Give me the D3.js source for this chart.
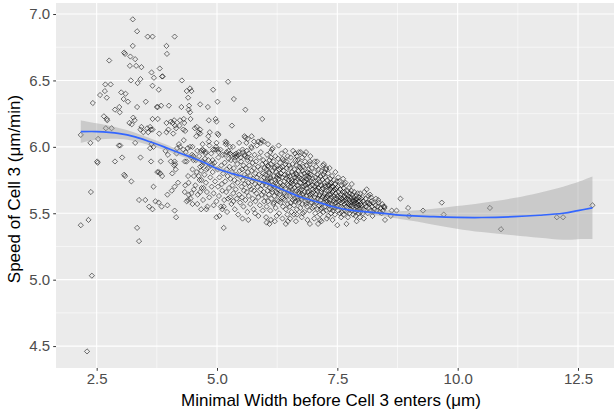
<!DOCTYPE html>
<html>
<head>
<meta charset="utf-8">
<script src="https://cdn.jsdelivr.net/npm/d3@7"></script>
<style>
  html, body { margin: 0; padding: 0; background: #ffffff; }
  svg { display: block; }
  text { font-family: "Liberation Sans", Arial, Helvetica, sans-serif; }
</style>
</head>
<body>
<svg id="chart" width="614" height="412"></svg>
<script>
// ---------- DATA ----------
const xTicks = [2.5, 5.0, 7.5, 10.0, 12.5];
const xTickLabels = ["2.5", "5.0", "7.5", "10.0", "12.5"];
const xMinor = [3.75, 6.25, 8.75, 11.25];
const yTicks = [4.5, 5.0, 5.5, 6.0, 6.5, 7.0];
const yTickLabels = ["4.5", "5.0", "5.5", "6.0", "6.5", "7.0"];
const yMinor = [4.75, 5.25, 5.75, 6.25, 6.75];
const xTitle = "Minimal Width before Cell 3 enters (\u03BCm)";
const yTitle = "Speed of Cell 3 (\u03BCm/min)";

// sparse left part of the cloud [minimal width, speed]
const cellsLeft = [
[2.17,6.09],[2.76,6.65],[2.42,6.33],[2.68,6.47],[2.79,6.47],[2.57,6.39],[2.67,6.42],[2.71,6.37],[2.88,6.28],[2.65,6.23],
[2.71,6.21],[2.72,6.20],[2.69,6.14],[2.81,6.14],[2.37,6.03],[2.53,6.06],[2.51,5.89],[2.52,5.88],[2.88,5.89],[2.96,6.01],
[2.38,5.66],[2.33,5.45],[2.17,5.41],[2.40,5.03],[2.30,4.46],
[3.25,6.96],[3.34,6.87],[3.56,6.83],[3.66,6.83],[4.12,6.83],[3.25,6.76],[3.95,6.76],[3.07,6.71],[3.09,6.70],[3.96,6.70],
[3.20,6.68],[3.30,6.66],[3.19,6.61],[3.32,6.61],[3.43,6.60],[3.81,6.59],[3.64,6.56],[3.86,6.53],[3.87,6.53],[3.69,6.52],
[3.21,6.50],[3.41,6.51],[3.35,6.48],[4.27,6.50],[5.23,6.49],[3.66,6.46],[3.79,6.43],[3.01,6.41],[3.10,6.40],[4.37,6.42],
[4.44,6.44],[4.47,6.42],[4.40,6.37],[4.92,6.43],[3.06,6.36],[3.15,6.34],[3.52,6.34],[5.01,6.34],[5.35,6.36],[3.75,6.30],
[3.77,6.30],[3.84,6.31],[4.00,6.31],[2.97,6.30],[2.98,6.26],[3.34,6.30],[4.26,6.30],[4.42,6.31],[4.41,6.28],[4.44,6.26],
[4.65,6.32],[4.81,6.30],[5.59,6.28],[3.26,6.22],[3.29,6.20],[3.18,6.18],[3.23,6.17],[3.66,6.21],[3.77,6.21],[3.95,6.18],
[4.04,6.19],[4.23,6.20],[4.13,6.16],[4.15,6.14],[4.30,6.13],[4.34,6.12],[4.45,6.21],[4.58,6.15],[4.65,6.13],[4.83,6.20],
[4.97,6.21],[5.31,6.16],[3.43,6.15],[3.55,6.14],[3.63,6.13],[5.01,6.10],[5.03,6.09],[5.57,6.08],[5.72,6.08],[4.57,6.08],
[4.82,6.08],[2.99,6.01],[3.30,6.03],[3.03,5.92],[3.41,5.92],[3.63,5.89],[3.83,5.89],[3.93,5.97],[4.12,5.89],[4.13,5.87],
[4.16,5.95],[4.21,6.02],[4.31,6.05],[4.39,5.99],[4.44,6.00],[4.33,5.89],[4.37,5.89],[4.51,5.93],[4.48,5.94],[4.49,6.00],
[4.59,5.97],[4.67,5.97],[4.76,5.95],[4.65,6.10],[4.85,6.11],[4.67,5.82],[4.78,5.83],[4.69,5.86],[4.72,5.88],[4.58,5.81],
[4.62,5.78],[3.79,5.81],[3.82,5.80],[3.86,5.78],[3.07,5.79],[3.09,5.78],[3.22,5.74],[3.68,5.70],[3.97,5.64],[4.06,5.67],
[4.12,5.70],[4.19,5.73],[4.34,5.71],[4.41,5.73],[4.33,5.66],[4.41,5.64],[4.47,5.65],[4.52,5.68],[4.45,5.61],[4.40,5.60],
[4.37,5.59],[3.38,5.60],[3.51,5.60],[3.72,5.59],[3.79,5.58],[3.85,5.55],[3.59,5.55],[3.66,5.53],[3.97,5.56],[4.12,5.52],
[4.15,5.47],[4.49,5.57],[4.59,5.57],[4.67,5.53],[4.78,5.53],[4.80,5.55],[4.93,5.56],[4.99,5.47],[5.05,5.48],[5.11,5.53],
[5.14,5.55],[5.14,5.39],[5.44,5.49],[5.34,5.59],[5.23,5.61],[3.34,5.39],[3.38,5.29],
[3.41,6.13],[3.47,6.11],[3.61,6.15],[3.66,6.13],[3.57,6.11],[3.64,6.02],[3.68,6.00],[3.61,5.99],[3.76,5.81],[4.08,6.18],
[4.11,6.20],[3.95,6.11],[3.99,6.13],[4.09,6.10],[4.31,6.21],[4.32,6.18],[4.22,6.16],[4.54,6.14],[4.62,6.11],[4.99,6.19],
[4.30,5.98],[4.35,5.96],[4.17,5.99],[4.23,6.00],[3.98,5.94],[3.80,6.10],[4.04,5.89],[4.11,5.86],[4.07,5.80],[4.14,5.83],
[4.47,5.92],[4.51,5.90],[4.49,5.83],[4.40,5.78],[4.72,5.97],[4.70,5.89],[4.65,5.85],[4.82,5.90],[4.91,5.90],[4.90,5.87],
[4.87,5.86],[5.01,5.98],[4.92,5.98],[4.99,6.03],[5.20,6.03],[5.27,6.00],[5.27,5.95],[5.30,5.94],[5.24,5.91],[5.37,5.90],
[5.41,5.93],[4.65,5.66],[4.72,5.69],[4.68,5.75],[4.84,6.01],[4.96,5.98],[5.03,5.96],[4.70,5.98],[4.77,5.96],
[5.17,5.94],[5.20,5.96],[5.36,5.94],[5.40,5.95],[5.45,5.94],[5.49,5.92],[5.54,5.96],[5.57,5.94],[5.63,5.92],
[5.94,6.21],[5.18,6.04],[5.46,6.03],[5.59,6.07],[5.64,6.06],[5.77,6.04],[5.86,6.04],[5.91,6.03],[5.97,6.04],[6.11,5.96]
];

// dense core of the cloud
const cellsCore = [
[4.52,5.78],[4.55,5.71],[4.56,5.90],[4.60,5.64],[4.63,5.93],[4.64,5.75],[4.68,5.69],[4.70,6.02],[4.71,5.60],[4.74,5.79],
[4.75,5.91],[4.77,5.73],[4.79,5.66],[4.81,5.84],[4.83,6.04],[4.84,5.62],[4.86,5.77],[4.88,5.95],[4.89,5.70],[4.91,5.81],
[4.93,5.65],[4.95,5.88],[4.96,5.74],[4.98,6.00],[4.99,5.59],
[5.01,5.83],[5.02,5.70],[5.03,5.92],[5.04,5.63],[5.05,5.77],[5.07,5.98],[5.08,5.55],[5.09,5.86],[5.10,5.72],[5.11,5.67],
[5.12,5.94],[5.13,5.80],[5.15,5.60],[5.16,5.88],[5.17,5.74],[5.18,6.02],[5.19,5.66],[5.20,5.83],[5.21,5.51],[5.22,5.78],
[5.24,5.97],[5.25,5.69],[5.26,5.85],[5.27,5.62],[5.28,5.76],[5.29,5.90],[5.30,5.57],[5.31,5.81],[5.32,5.71],[5.33,6.00],
[5.34,5.65],[5.35,5.84],[5.36,5.75],[5.37,5.53],[5.38,5.92],[5.39,5.68],[5.40,5.79],[5.41,5.61],[5.42,5.87],[5.43,5.73],
[5.45,5.96],[5.46,5.64],[5.47,5.82],[5.48,5.58],[5.49,5.77],
[5.50,5.89],[5.51,5.70],[5.52,5.62],[5.52,5.83],[5.53,5.98],[5.54,5.75],[5.55,5.55],[5.55,5.86],[5.56,5.67],[5.57,5.79],
[5.58,5.93],[5.58,5.72],[5.59,5.60],[5.60,5.84],[5.61,6.03],[5.61,5.77],[5.62,5.66],[5.63,5.90],[5.63,5.51],[5.64,5.81],
[5.65,5.73],[5.66,5.95],[5.66,5.63],[5.67,5.86],[5.68,5.70],[5.69,5.78],[5.69,5.57],[5.70,5.91],[5.71,5.68],[5.72,5.82],
[5.72,5.99],[5.73,5.74],[5.74,5.61],[5.74,5.88],[5.75,5.76],[5.76,5.53],[5.77,5.84],[5.77,5.67],[5.78,5.94],[5.79,5.72],
[5.80,5.80],[5.80,5.59],[5.81,5.89],[5.82,5.65],[5.83,5.77],[5.83,6.01],[5.84,5.70],[5.85,5.85],[5.86,5.48],[5.86,5.62],
[5.87,5.79],[5.88,5.92],[5.88,5.73],[5.89,5.56],[5.90,5.83],[5.91,5.68],[5.91,5.96],[5.92,5.75],[5.93,5.64],[5.94,5.87],
[5.94,5.71],[5.95,5.52],[5.96,5.80],[5.96,5.90],[5.97,5.66],[5.98,5.77],[5.98,5.59],[5.99,5.84],[5.99,5.73],[5.53,5.46],
[5.65,5.45],[5.79,5.50],[5.71,6.00],[5.93,6.05],[5.62,5.97],
[6.00,5.79],[6.01,5.62],[6.01,5.88],[6.02,5.71],[6.03,5.55],[6.03,5.83],[6.04,5.94],[6.05,5.67],[6.05,5.76],[6.06,5.59],
[6.07,5.85],[6.07,5.73],[6.08,5.64],[6.09,5.90],[6.09,5.80],[6.10,5.69],[6.11,5.52],[6.11,5.77],[6.12,5.87],[6.13,5.61],
[6.13,5.74],[6.14,5.98],[6.15,5.82],[6.15,5.66],[6.16,5.71],[6.17,5.57],[6.17,5.89],[6.18,5.78],[6.19,5.63],[6.19,5.84],
[6.20,5.70],[6.21,5.93],[6.21,5.75],[6.22,5.54],[6.23,5.81],[6.23,5.66],[6.24,5.86],[6.25,5.72],[6.25,5.60],[6.26,5.79],
[6.27,5.91],[6.27,5.68],[6.28,5.76],[6.29,5.50],[6.29,5.83],[6.30,5.64],[6.31,5.73],[6.31,5.88],[6.32,5.58],[6.33,5.80],
[6.33,5.69],[6.34,5.95],[6.35,5.77],[6.35,5.62],[6.36,5.85],[6.37,5.71],[6.37,5.55],[6.38,5.82],[6.39,5.66],[6.39,5.90],
[6.40,5.74],[6.41,5.60],[6.41,5.79],[6.42,5.87],[6.43,5.68],[6.43,5.53],[6.44,5.76],[6.45,5.84],[6.45,5.63],[6.46,5.72],
[6.47,5.93],[6.47,5.57],[6.48,5.80],[6.49,5.67],[6.49,5.75],[6.50,5.86],
[6.02,5.47],[6.06,6.02],[6.12,5.45],[6.16,5.99],[6.24,5.48],[6.28,6.01],[6.36,5.46],[6.42,5.97],[6.46,5.49],[6.18,5.58],
[6.04,5.74],[6.08,5.81],[6.14,5.68],[6.20,5.85],[6.26,5.65],[6.30,5.78],[6.34,5.70],[6.38,5.61],[6.44,5.89],[6.48,5.71],
[6.10,5.76],[6.22,5.73],[6.32,5.84],[6.40,5.65],[6.46,5.78],[6.12,5.92],[6.28,5.59],[6.36,5.91],[6.06,5.86],[6.24,5.77],
[6.50,5.63],[6.51,5.78],[6.51,5.55],[6.52,5.84],[6.53,5.70],[6.53,5.92],[6.54,5.66],[6.55,5.75],[6.55,5.51],[6.56,5.81],
[6.57,5.60],[6.57,5.87],[6.58,5.72],[6.59,5.64],[6.59,5.79],[6.60,5.56],[6.61,5.83],[6.61,5.69],[6.62,5.95],[6.63,5.74],
[6.63,5.59],[6.64,5.80],[6.65,5.67],[6.65,5.86],[6.66,5.53],[6.67,5.76],[6.67,5.62],[6.68,5.90],[6.69,5.71],[6.69,5.82],
[6.70,5.58],[6.71,5.77],[6.71,5.65],[6.72,5.88],[6.73,5.54],[6.73,5.73],[6.74,5.84],[6.75,5.61],[6.75,5.79],[6.76,5.68],
[6.77,5.92],[6.77,5.57],[6.78,5.75],[6.79,5.64],[6.79,5.85],[6.80,5.70],[6.81,5.51],[6.81,5.80],[6.82,5.66],[6.83,5.89],
[6.83,5.74],[6.84,5.59],[6.85,5.78],[6.85,5.63],[6.86,5.86],[6.87,5.69],[6.87,5.55],[6.88,5.81],[6.89,5.72],[6.89,5.60],
[6.90,5.83],[6.91,5.66],[6.91,5.77],[6.92,5.52],[6.93,5.87],[6.93,5.70],[6.94,5.62],[6.95,5.79],[6.95,5.58],[6.96,5.74],
[6.97,5.84],[6.97,5.65],[6.98,5.54],[6.99,5.76],[6.99,5.68],
[6.52,5.46],[6.58,5.97],[6.64,5.44],[6.70,5.96],[6.76,5.47],[6.82,5.94],[6.88,5.45],[6.94,5.93],[6.60,5.49],[6.78,5.50],
[6.54,5.73],[6.56,5.68],[6.62,5.77],[6.66,5.71],[6.68,5.60],[6.72,5.67],[6.74,5.76],[6.78,5.82],[6.80,5.62],[6.84,5.71],
[6.86,5.76],[6.88,5.66],[6.90,5.73],[6.92,5.80],[6.96,5.61],[6.98,5.71],[6.53,5.58],[6.61,5.61],[6.69,5.66],[6.77,5.70],
[6.85,5.57],[6.93,5.64],[6.57,5.74],[6.65,5.79],[6.73,5.63],[6.81,5.74],[6.89,5.78],[6.97,5.58],[6.63,5.90],[6.71,5.85],
[7.00,5.66],[7.01,5.74],[7.01,5.55],[7.02,5.81],[7.03,5.62],[7.03,5.70],[7.04,5.50],[7.05,5.77],[7.05,5.64],[7.06,5.85],
[7.07,5.58],[7.07,5.72],[7.08,5.67],[7.09,5.53],[7.09,5.79],[7.10,5.61],[7.11,5.69],[7.11,5.83],[7.12,5.56],[7.13,5.74],
[7.13,5.64],[7.14,5.49],[7.15,5.78],[7.15,5.60],[7.16,5.71],[7.17,5.66],[7.17,5.82],[7.18,5.54],[7.19,5.75],[7.19,5.62],
[7.20,5.69],[7.21,5.51],[7.21,5.79],[7.22,5.58],[7.23,5.73],[7.23,5.65],[7.24,5.55],[7.25,5.77],[7.25,5.61],[7.26,5.70],
[7.27,5.84],[7.27,5.52],[7.28,5.67],[7.29,5.59],[7.29,5.75],[7.30,5.63],[7.31,5.48],[7.31,5.80],[7.32,5.56],[7.33,5.71],
[7.33,5.64],[7.34,5.53],[7.35,5.76],[7.35,5.60],[7.36,5.68],[7.37,5.50],[7.37,5.73],[7.38,5.62],[7.39,5.57],[7.39,5.78],
[7.40,5.66],[7.41,5.52],[7.41,5.70],[7.42,5.59],[7.43,5.75],[7.43,5.63],[7.44,5.54],[7.45,5.68],[7.45,5.49],[7.46,5.72],
[7.47,5.58],[7.47,5.65],[7.48,5.55],[7.49,5.74],[7.49,5.61],
[7.02,5.46],[7.08,5.89],[7.14,5.45],[7.20,5.86],[7.28,5.46],[7.34,5.84],[7.40,5.45],[7.46,5.81],[7.06,5.68],[7.12,5.63],
[7.18,5.68],[7.24,5.71],[7.30,5.57],[7.36,5.64],[7.42,5.67],[7.48,5.69],[7.04,5.59],[7.10,5.72],[7.16,5.57],[7.22,5.63],
[7.26,5.59],[7.32,5.67],[7.38,5.70],[7.44,5.61],[7.15,5.53],[7.27,5.62],[7.39,5.54],[7.11,5.76],[7.33,5.58],[7.45,5.57],
[7.50,5.63],[7.51,5.56],[7.51,5.70],[7.52,5.52],[7.53,5.66],[7.53,5.59],[7.54,5.74],[7.55,5.50],[7.55,5.62],[7.56,5.68],
[7.57,5.55],[7.57,5.64],[7.58,5.58],[7.59,5.71],[7.59,5.51],[7.60,5.61],[7.61,5.66],[7.61,5.54],[7.62,5.59],[7.63,5.69],
[7.63,5.49],[7.64,5.63],[7.65,5.57],[7.65,5.66],[7.66,5.52],[7.67,5.60],[7.67,5.73],[7.68,5.55],[7.69,5.64],[7.69,5.58],
[7.70,5.51],[7.71,5.67],[7.71,5.61],[7.72,5.54],[7.73,5.63],[7.73,5.57],[7.74,5.69],[7.75,5.50],[7.75,5.60],[7.76,5.65],
[7.77,5.53],[7.77,5.58],[7.78,5.62],[7.79,5.56],[7.79,5.67],[7.80,5.52],[7.81,5.60],[7.81,5.64],[7.82,5.55],[7.83,5.59],
[7.83,5.49],[7.84,5.62],[7.85,5.57],[7.85,5.66],[7.86,5.53],[7.87,5.60],[7.87,5.51],[7.88,5.58],[7.89,5.63],[7.89,5.55],
[7.90,5.61],[7.91,5.52],[7.91,5.57],[7.92,5.65],[7.93,5.54],[7.93,5.59],[7.94,5.50],[7.95,5.62],[7.95,5.56],[7.96,5.53],
[7.97,5.59],[7.98,5.57],[7.98,5.51],[7.99,5.61],[7.99,5.54],
[7.52,5.77],[7.58,5.47],[7.62,5.76],[7.72,5.47],[7.80,5.72],[7.88,5.48],[7.56,5.60],[7.66,5.62],[7.76,5.56],[7.86,5.59],
[8.01,5.56],[8.02,5.62],[8.03,5.50],[8.04,5.59],[8.05,5.53],[8.06,5.66],[8.07,5.57],[8.08,5.52],[8.09,5.61],[8.10,5.55],
[8.12,5.58],[8.13,5.50],[8.14,5.63],[8.16,5.54],[8.17,5.57],[8.19,5.52],[8.21,5.59],[8.22,5.55],[8.24,5.51],[8.25,5.58],
[8.27,5.53],[8.29,5.56],[8.30,5.61],[8.32,5.52],[8.34,5.55],[8.36,5.58],[8.38,5.51],[8.40,5.54],[8.43,5.57],[8.45,5.52],
[8.05,5.46],[8.11,5.68],[8.23,5.48],[8.35,5.60],[8.46,5.55],
[6.66,5.93],[6.74,5.96],[6.85,5.96],[6.93,5.89],[7.03,5.89],[7.22,5.87],[7.26,5.83],[7.23,5.81],[7.64,5.72],[7.36,5.72],
[7.31,5.71],[7.97,5.65],[8.18,5.64],[8.20,5.62],[8.48,5.55],[8.15,5.58],
[6.03,5.43],[6.09,5.42],[6.20,5.44],[6.43,5.42],[6.47,5.44],[6.66,5.49],[6.93,5.42],[7.10,5.42],[7.17,5.44],[7.50,5.41],
[7.69,5.42],[7.90,5.44],[7.97,5.47],[8.49,5.45]
];

// right tail
const cellsTail = [
[8.48,5.54],[8.63,5.52],[8.73,5.52],[8.61,5.48],[8.42,5.50],[8.81,5.61],[8.97,5.54],[8.99,5.48],[9.28,5.52],[9.67,5.58],
[9.71,5.49],[10.67,5.54],[10.90,5.38],[12.06,5.47],[12.19,5.47],[12.80,5.56]
];

// loess fit with its confidence band (half-width)
const fitX  = [2.17, 2.5, 2.98, 3.3, 3.61, 3.9, 4.16, 4.4, 4.65, 4.86, 5.06, 5.34, 5.69, 6.03, 6.38, 6.72, 7.07, 7.42, 7.76, 8.11, 8.46, 8.8, 9.08, 9.5, 9.98, 10.5, 11.16, 11.7, 12.19, 12.5, 12.8];
const fitY  = [6.114, 6.115, 6.10, 6.075, 6.038, 6.0, 5.963, 5.93, 5.895, 5.86, 5.827, 5.797, 5.762, 5.725, 5.675, 5.624, 5.587, 5.549, 5.524, 5.511, 5.499, 5.486, 5.481, 5.474, 5.469, 5.468, 5.474, 5.485, 5.50, 5.52, 5.541];
const fitSE = [0.085, 0.062, 0.04, 0.032, 0.027, 0.024, 0.022, 0.02, 0.019, 0.019, 0.019, 0.018, 0.018, 0.018, 0.018, 0.018, 0.018, 0.018, 0.019, 0.02, 0.022, 0.03, 0.04, 0.06, 0.085, 0.11, 0.14, 0.17, 0.20, 0.215, 0.235];

// ---------- DRAW ----------
const svg = d3.select("#chart");
const P = { left: 56, top: 3, right: 618.2, bottom: 368 };

const x = d3.scaleLinear().domain([1.655, 13.335]).range([P.left, P.right]);
const y = d3.scaleLinear().domain([4.335, 7.083]).range([P.bottom, P.top]);

svg.append("rect").attr("x", P.left).attr("y", P.top)
  .attr("width", P.right - P.left).attr("height", P.bottom - P.top)
  .attr("fill", "#EBEBEB");

const grid = svg.append("g");
grid.selectAll(".xmin").data(xMinor).join("line")
  .attr("x1", d => x(d)).attr("x2", d => x(d)).attr("y1", P.top).attr("y2", P.bottom)
  .attr("stroke", "#fff").attr("stroke-width", 0.55);
grid.selectAll(".ymin").data(yMinor).join("line")
  .attr("y1", d => y(d)).attr("y2", d => y(d)).attr("x1", P.left).attr("x2", P.right)
  .attr("stroke", "#fff").attr("stroke-width", 0.55);
grid.selectAll(".xmaj").data(xTicks).join("line")
  .attr("x1", d => x(d)).attr("x2", d => x(d)).attr("y1", P.top).attr("y2", P.bottom)
  .attr("stroke", "#fff").attr("stroke-width", 1.1);
grid.selectAll(".ymaj").data(yTicks).join("line")
  .attr("y1", d => y(d)).attr("y2", d => y(d)).attr("x1", P.left).attr("x2", P.right)
  .attr("stroke", "#fff").attr("stroke-width", 1.1);

svg.append("clipPath").attr("id", "clip").append("rect")
  .attr("x", P.left).attr("y", P.top).attr("width", P.right - P.left).attr("height", P.bottom - P.top);

const cells = cellsLeft.concat(cellsCore, cellsTail);
const plot = svg.append("g").attr("clip-path", "url(#clip)");
const r = 2.6;
plot.append("g").selectAll("path").data(cells).join("path")
  .attr("d", d => {
    const cx = x(d[0]), cy = y(d[1]);
    return `M${cx},${cy - r}L${cx + r},${cy}L${cx},${cy + r}L${cx - r},${cy}Z`;
  })
  .attr("fill", "none").attr("stroke", "#000").attr("stroke-opacity", 0.72).attr("stroke-width", 0.75);

const fit = fitX.map((v, i) => ({ x: v, y: fitY[i], se: fitSE[i] }));
plot.append("path").datum(fit)
  .attr("d", d3.area().x(d => x(d.x)).y0(d => y(d.y - d.se)).y1(d => y(d.y + d.se)).curve(d3.curveCatmullRom))
  .attr("fill", "#999999").attr("fill-opacity", 0.4);
plot.append("path").datum(fit)
  .attr("d", d3.line().x(d => x(d.x)).y(d => y(d.y)).curve(d3.curveCatmullRom))
  .attr("fill", "none").attr("stroke", "#3366FF").attr("stroke-width", 1.7);

// axes
const xAxis = svg.append("g").attr("transform", `translate(0,${P.bottom})`)
  .call(d3.axisBottom(x).tickValues(xTicks).tickFormat((d, i) => xTickLabels[i]).tickSize(2.8).tickPadding(3));
const yAxis = svg.append("g").attr("transform", `translate(${P.left},0)`)
  .call(d3.axisLeft(y).tickValues(yTicks).tickFormat((d, i) => yTickLabels[i]).tickSize(2.8).tickPadding(3));
[xAxis, yAxis].forEach(a => {
  a.select(".domain").remove();
  a.selectAll(".tick line").attr("stroke", "#333333").attr("stroke-width", 1);
  a.selectAll(".tick text").attr("fill", "#4D4D4D").style("font-size", "15px")
    .style("font-family", "'Liberation Sans', Arial, sans-serif");
});

svg.append("text").attr("x", 331).attr("y", 406).attr("text-anchor", "middle")
  .style("font-size", "17px").attr("fill", "#000").text(xTitle);
svg.append("text").attr("transform", "translate(20,189) rotate(-90)").attr("text-anchor", "middle")
  .style("font-size", "17px").attr("fill", "#000").text(yTitle);
</script>
</body>
</html>
